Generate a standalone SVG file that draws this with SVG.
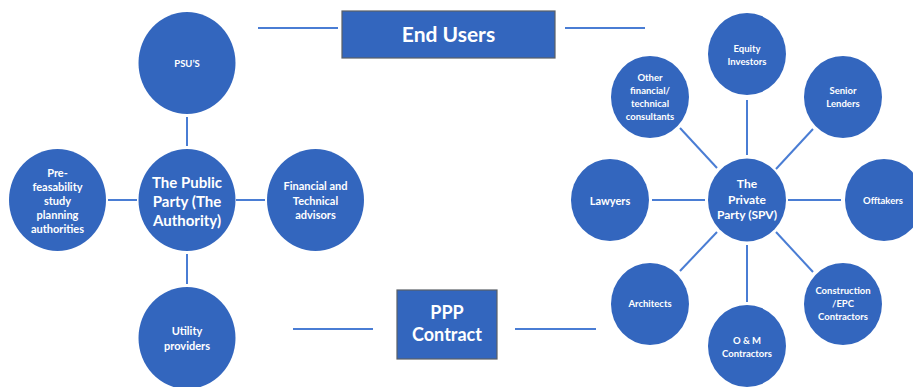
<svg xmlns="http://www.w3.org/2000/svg" width="913" height="387" viewBox="0 0 913 387">
  <style>
    .bg { fill: #ffffff; }
    .node { fill: #3366BE; }
    .box { fill: #3366BE; stroke: #5a5f66; stroke-width: 1.2; }
    .link { stroke: #4A7DD4; stroke-width: 2; fill: none; }
    text { font-family: "Lato", "Liberation Sans", sans-serif; font-weight: bold; fill: #ffffff; text-anchor: middle; dominant-baseline: central; }
    .s9 { font-size: 9.5px; }
    .s11 { font-size: 11px; }
    .s12 { font-size: 12px; }
    .s15 { font-size: 15px; }
    .s18 { font-size: 18px; }
    .s21 { font-size: 21px; }
  </style>
  <rect class="bg" x="0" y="0" width="913" height="387"/>

  <!-- connectors -->
  <g id="connectors">
    <line class="link" x1="258" y1="28" x2="338" y2="28"/>
    <line class="link" x1="565" y1="28" x2="645" y2="28"/>
    <line class="link" x1="187" y1="117" x2="187" y2="146"/>
    <line class="link" x1="108" y1="200" x2="137" y2="200"/>
    <line class="link" x1="236" y1="200" x2="265" y2="200"/>
    <line class="link" x1="187" y1="254" x2="187" y2="284"/>
    <line class="link" x1="293" y1="329" x2="373" y2="329"/>
    <line class="link" x1="515" y1="329" x2="596" y2="329"/>
    <line class="link" x1="747" y1="100" x2="747" y2="155"/>
    <line class="link" x1="680" y1="128" x2="717" y2="168"/>
    <line class="link" x1="813" y1="129" x2="776" y2="169"/>
    <line class="link" x1="652" y1="200" x2="705" y2="200"/>
    <line class="link" x1="788" y1="200" x2="841" y2="200"/>
    <line class="link" x1="717" y1="232" x2="680" y2="271"/>
    <line class="link" x1="747" y1="245" x2="747" y2="302"/>
    <line class="link" x1="776" y1="232" x2="813" y2="272"/>
  </g>

  <!-- boxes -->
  <g id="end-users">
    <rect class="box" x="342" y="11" width="213" height="47"/>
    <text class="s21" x="448.5" y="33">End Users</text>
  </g>
  <g id="ppp-contract">
    <rect class="box" x="397" y="290" width="100" height="69"/>
    <text class="s18" x="447" y="312">PPP</text>
    <text class="s18" x="447" y="334">Contract</text>
  </g>

  <!-- public side -->
  <g id="psus">
    <ellipse class="node" cx="187" cy="63" rx="48.5" ry="51"/>
    <text class="s9" x="187" y="63">PSU’S</text>
  </g>
  <g id="public-party">
    <ellipse class="node" cx="187" cy="200" rx="48.5" ry="51"/>
    <text class="s15" x="187" y="182">The Public</text>
    <text class="s15" x="187" y="201">Party (The</text>
    <text class="s15" x="187" y="220">Authority)</text>
  </g>
  <g id="pre-feasability">
    <ellipse class="node" cx="57.5" cy="200" rx="48.5" ry="51"/>
    <text class="s11" x="57.5" y="172">Pre-</text>
    <text class="s11" x="57.5" y="186">feasability</text>
    <text class="s11" x="57.5" y="200">study</text>
    <text class="s11" x="57.5" y="214">planning</text>
    <text class="s11" x="57.5" y="228">authorities</text>
  </g>
  <g id="financial-technical">
    <ellipse class="node" cx="315.5" cy="200" rx="48.5" ry="51"/>
    <text class="s11" x="315.5" y="185">Financial and</text>
    <text class="s11" x="315.5" y="200">Technical</text>
    <text class="s11" x="315.5" y="214">advisors</text>
  </g>
  <g id="utility">
    <ellipse class="node" cx="187" cy="338" rx="48.5" ry="51"/>
    <text class="s11" x="187" y="330">Utility</text>
    <text class="s11" x="187" y="345">providers</text>
  </g>

  <!-- private side -->
  <g id="private-party">
    <ellipse class="node" cx="747" cy="200" rx="39" ry="41.5"/>
    <text class="s12" x="747" y="183">The</text>
    <text class="s12" x="747" y="199">Private</text>
    <text class="s12" x="747" y="214">Party (SPV)</text>
  </g>
  <g id="equity">
    <ellipse class="node" cx="747" cy="54" rx="39" ry="41"/>
    <text class="s9" x="747" y="48">Equity</text>
    <text class="s9" x="747" y="61">Investors</text>
  </g>
  <g id="other-consultants">
    <ellipse class="node" cx="650" cy="97" rx="39" ry="41"/>
    <text class="s9" x="650" y="77">Other</text>
    <text class="s9" x="650" y="90">financial/</text>
    <text class="s9" x="650" y="103">technical</text>
    <text class="s9" x="650" y="116">consultants</text>
  </g>
  <g id="senior-lenders">
    <ellipse class="node" cx="843" cy="97" rx="39" ry="41"/>
    <text class="s9" x="843" y="90">Senior</text>
    <text class="s9" x="843" y="103">Lenders</text>
  </g>
  <g id="lawyers">
    <ellipse class="node" cx="610" cy="200" rx="39" ry="41"/>
    <text class="s11" x="610" y="200">Lawyers</text>
  </g>
  <g id="offtakers">
    <ellipse class="node" cx="884" cy="200" rx="39" ry="41"/>
    <text class="s9" x="883" y="200">Offtakers</text>
  </g>
  <g id="architects">
    <ellipse class="node" cx="650" cy="304" rx="39" ry="41"/>
    <text class="s9" x="650" y="303">Architects</text>
  </g>
  <g id="om-contractors">
    <ellipse class="node" cx="747" cy="346" rx="39" ry="41"/>
    <text class="s9" x="747" y="340">O &amp; M</text>
    <text class="s9" x="747" y="353">Contractors</text>
  </g>
  <g id="construction">
    <ellipse class="node" cx="843" cy="304" rx="39" ry="41"/>
    <text class="s9" x="843" y="290">Construction</text>
    <text class="s9" x="843" y="303">/EPC</text>
    <text class="s9" x="843" y="316">Contractors</text>
  </g>
</svg>
